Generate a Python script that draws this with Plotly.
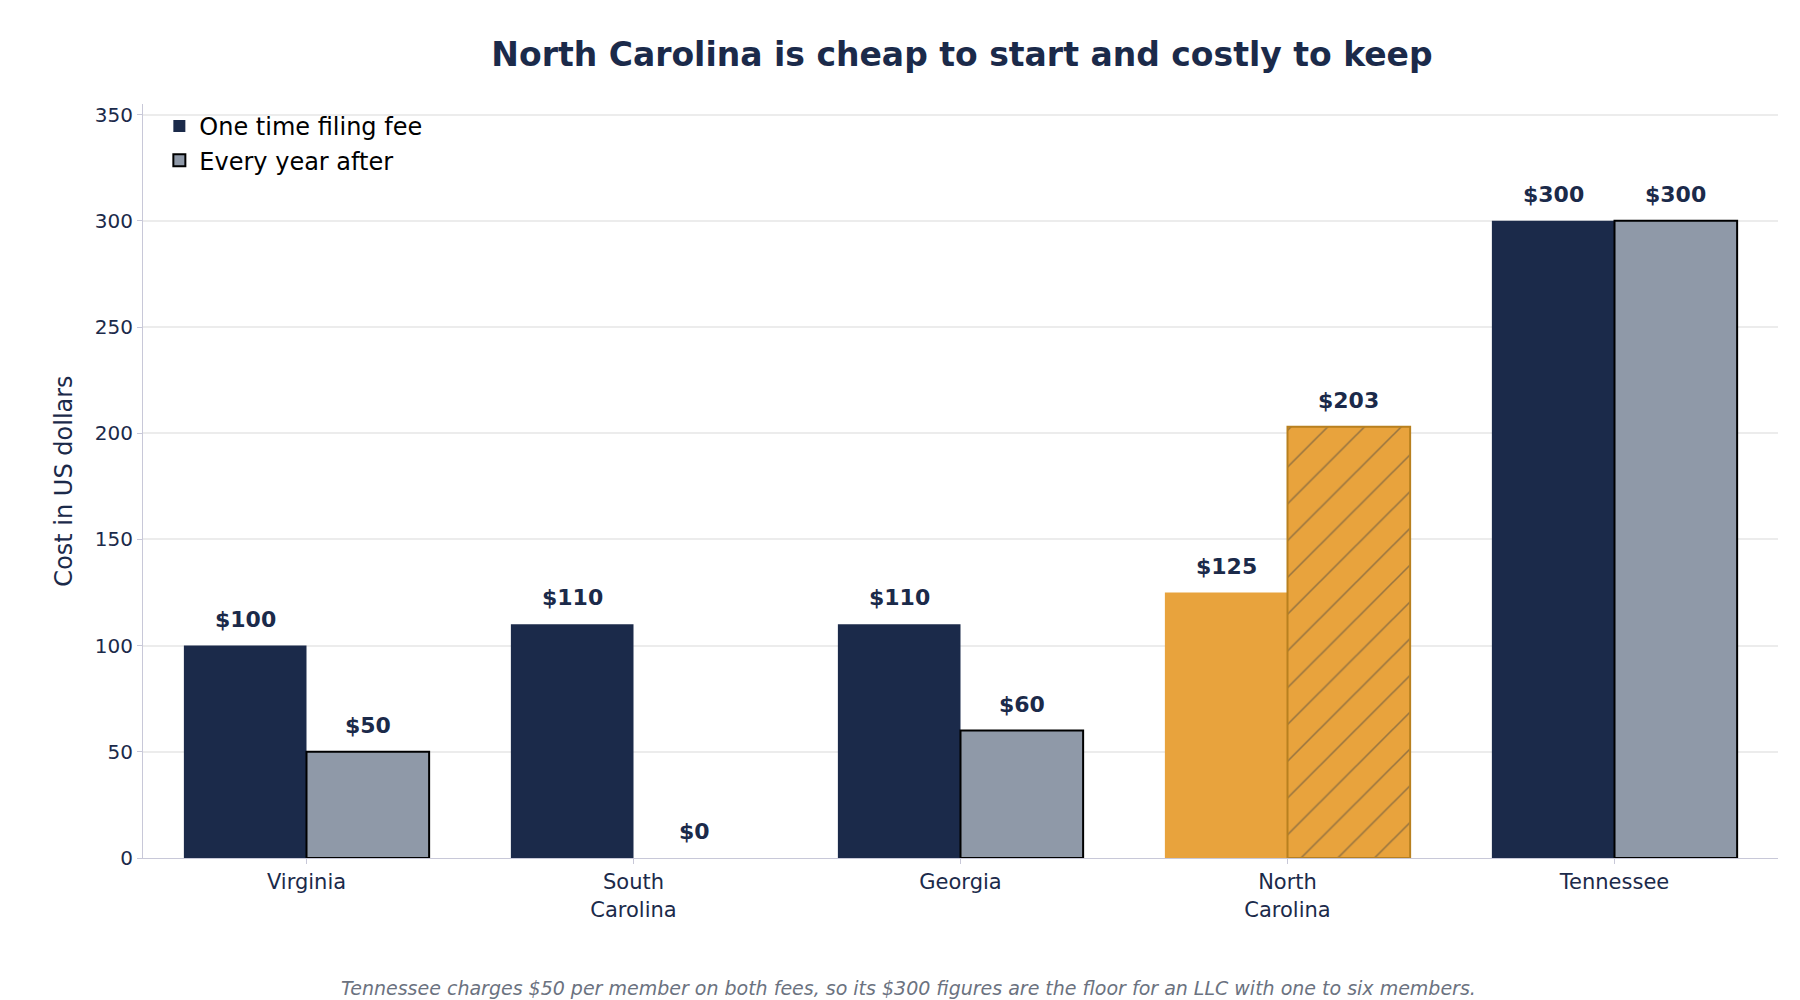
import plotly.graph_objects as go

states = ["Virginia", "South<br>Carolina", "Georgia", "North<br>Carolina", "Tennessee"]
filing = [100, 110, 110, 125, 300]
annual = [50, 0, 60, 203, 300]

navy = "#1b2a4a"
grey = "#8f99a8"
orange = "#e8a33d"
dorange = "#b8801f"

W, H, L, R, T, B = 1800, 1000, 135, 30, 96, 150
cat_w = (W - L - R) / len(states)
half = cat_w * 0.75 / 4

fig = go.Figure()
fig.add_bar(name="One time filing fee", x=states, y=filing,
            marker=dict(color=[navy, navy, navy, orange, navy], line=dict(width=0)))
fig.add_bar(name="Every year after", x=states, y=annual,
            marker=dict(color=[grey, grey, grey, orange, grey],
                        line=dict(width=[2, 0, 2, 2, 2], color=["black", "black", "black", dorange, "black"]),
                        pattern=dict(shape=["", "", "", "/", ""], fgcolor=dorange, size=26, solidity=0.06)))

anns = []
for s, v in zip(states, filing):
    anns.append(dict(x=s, y=v, xshift=-half, yshift=12, yanchor="bottom", showarrow=False,
                     text=f"<b>${v}</b>", font=dict(size=22, color=navy)))
for s, v in zip(states, annual):
    anns.append(dict(x=s, y=v, xshift=half, yshift=12, yanchor="bottom", showarrow=False,
                     text=f"<b>${v}</b>", font=dict(size=22, color=navy)))
anns.append(dict(text="<i>Tennessee charges $50 per member on both fees, so its $300 figures are the floor for an LLC with one to six members.</i>",
                 x=(W / 2 - L) / (W - L - R), y=-0.19, xref="paper", yref="paper", showarrow=False,
                 font=dict(size=19, color="#6b7280")))

fig.update_layout(
    width=W, height=H, barmode="group", bargap=0.25, bargroupgap=0,
    plot_bgcolor="white", paper_bgcolor="white",
    font=dict(family="DejaVu Sans", color=navy, size=20),
    title=dict(text="<b>North Carolina is cheap to start and costly to keep</b>", x=0.53, xanchor="center",
               y=0.965, font=dict(size=33, color=navy)),
    margin=dict(l=L, r=R, t=T, b=B),
    legend=dict(x=0.01, y=1.0, xanchor="left", yanchor="top", font=dict(size=24, color="black"),
                bgcolor="rgba(255,255,255,0)", itemsizing="constant"),
    annotations=anns,
)
fig.update_yaxes(range=[0, 355], dtick=50, showgrid=True, gridcolor="#ececec", gridwidth=1.5,
                 showline=True, linecolor="#c8c8d8", ticks="outside", tickcolor="#c8c8d8",
                 title=dict(text="Cost in US dollars", font=dict(size=24)), zeroline=False)
fig.update_xaxes(showline=True, linecolor="#c8c8d8", ticks="outside", tickcolor="#c8c8d8",
                 tickfont=dict(size=21))
fig.write_html("out.html")
